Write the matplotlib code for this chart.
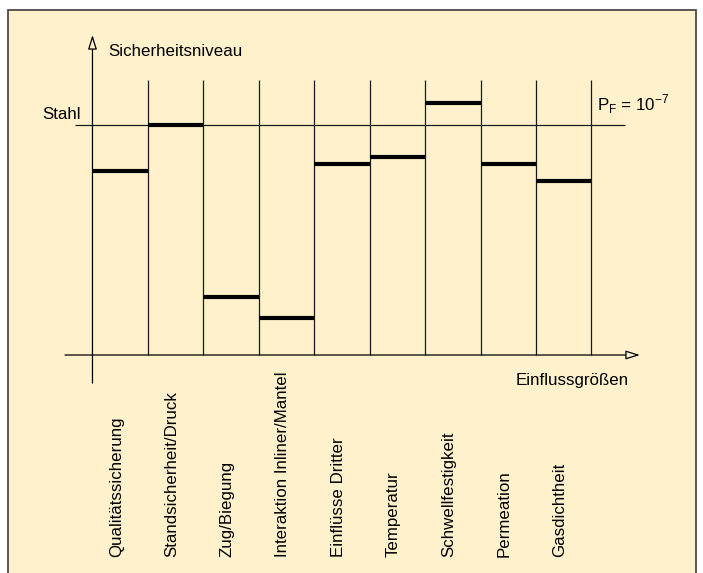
import matplotlib
matplotlib.use("Agg")
import matplotlib.pyplot as plt
from matplotlib.patches import Rectangle

plt.rcParams['font.family'] = ['Liberation Sans', 'DejaVu Sans']
plt.rcParams['mathtext.fontset'] = 'custom'
plt.rcParams['mathtext.rm'] = 'Liberation Sans'

# Einflussgrößen und relatives Sicherheitsniveau (Stahl = 100)
factors = ['Qualitätssicherung', 'Standsicherheit/Druck', 'Zug/Biegung',
           'Interaktion Inliner/Mantel', 'Einflüsse Dritter', 'Temperatur',
           'Schwellfestigkeit', 'Permeation', 'Gasdichtheit']
levels = [80.0, 100.0, 25.3, 16.2, 83.2, 86.2, 109.6, 83.3, 75.8]
steel_level = 100.0

bg = '#FEF1CC'
fs = 12.2

fig = plt.figure(figsize=(7.03, 5.73), dpi=100)
fig.patch.set_facecolor('white')

ax = fig.add_axes([0, 0, 1, 1])
ax.set_xlim(-1.668, 11.012)
ax.set_ylim(-94.9, 154.55)
ax.axis('off')

# beige panel with frame (no bottom edge visible)
ax.add_patch(Rectangle((8 / 703, -0.02), (696 - 8) / 703, 1 - 10 / 573 + 0.02,
                       transform=ax.transAxes, facecolor=bg, clip_on=False,
                       edgecolor='#4a4a4a', lw=1.3, zorder=-5))

n = len(factors)
top = 119.7

# column dividers
ax.vlines(range(1, n + 1), 0, top, color='#1a1a1a', lw=0.9)

# reference line Stahl
ax.hlines(steel_level, -0.316, 9.605, color='#1a1a1a', lw=0.9)

# level bars per factor
for i, lv in enumerate(levels):
    ax.hlines(lv, i, i + 1, color='black', lw=3.0, zorder=3)

# axes with open arrow heads
arrow = dict(arrowstyle='-|>,head_length=0.86,head_width=0.27', mutation_scale=10,
             fc=bg, ec='black', lw=0.9, shrinkA=0, shrinkB=0)
ax.annotate('', xy=(0, 139.3), xytext=(0, -12.2), arrowprops=arrow)
ax.annotate('', xy=(9.875, 0), xytext=(-0.496, 0), arrowprops=arrow)

ax.text(0.28, 130.2, 'Sicherheitsniveau', fontsize=fs, va='baseline', ha='left')
ax.text(-0.911, 102.7, 'Stahl', fontsize=fs, va='baseline', ha='left')
ax.text(9.68, -13.0, 'Einflussgrößen', fontsize=fs, va='baseline', ha='right')
ax.text(9.1, 106.3, r'P$_\mathregular{F}$ = 10$^\mathregular{-7}$', fontsize=fs,
        va='baseline', ha='left')

for i, name in enumerate(factors):
    ax.text(i + 0.43, -87.9, name, rotation=90, fontsize=fs,
            ha='center', va='bottom')

fig.savefig('out.png', dpi=100, facecolor=fig.get_facecolor())
